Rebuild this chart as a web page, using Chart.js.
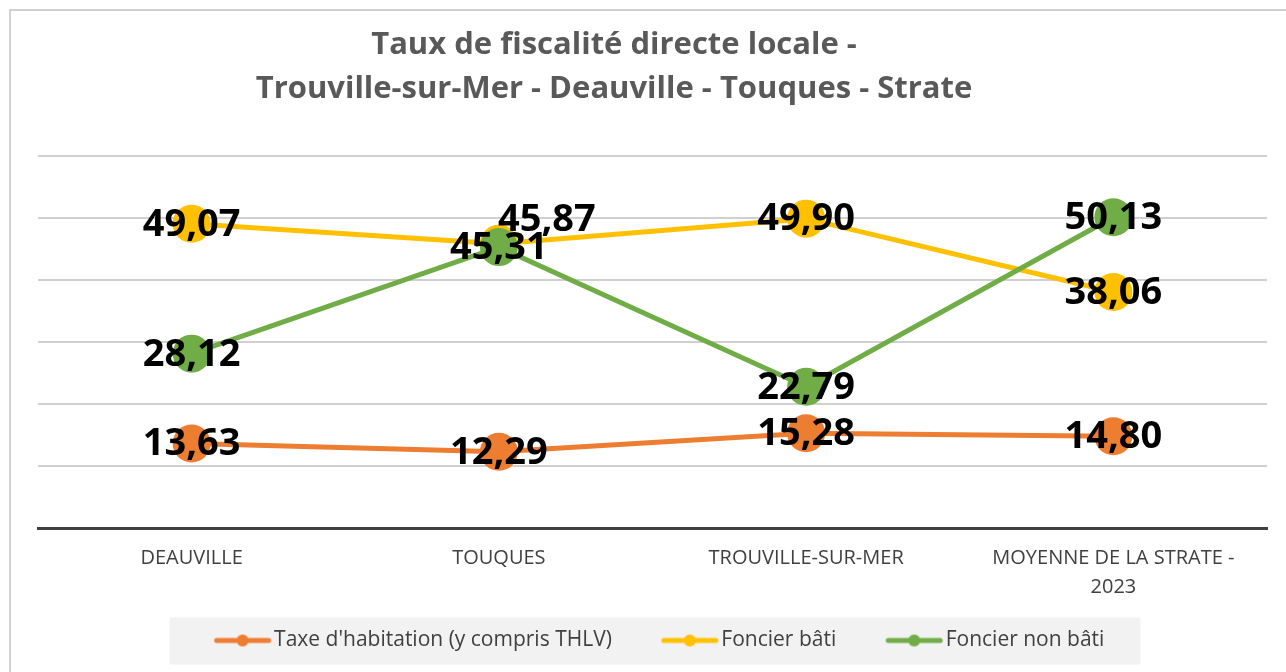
<!DOCTYPE html>
<html>
<head>
<meta charset="utf-8">
<script src="https://cdn.jsdelivr.net/npm/chart.js@4"></script>
<style>
  html, body { margin: 0; padding: 0; background: #fff; }
  #wrap { width: 1286px; height: 672px; position: relative; }
</style>
</head>
<body>
<div id="wrap"><canvas id="chartTaux"></canvas></div>
<script>
const communes = ["DEAUVILLE", "TOUQUES", "TROUVILLE-SUR-MER", ["MOYENNE DE LA STRATE -", "2023"]];
const taxeHabitation = [13.63, 12.29, 15.28, 14.80];
const foncierBati = [49.07, 45.87, 49.90, 38.06];
const foncierNonBati = [28.12, 45.31, 22.79, 50.13];
const yTicks = [0, 10, 20, 30, 40, 50, 60];

const FONT = "'Open Sans', sans-serif";

// line + dot picture for the legend, drawn on the right part of a wider canvas
function legendMark(color) {
  const c = document.createElement("canvas");
  c.width = 92;
  c.height = 14;
  const ctx = c.getContext("2d");
  ctx.strokeStyle = color;
  ctx.lineWidth = 5;
  ctx.lineCap = "round";
  ctx.beginPath();
  ctx.moveTo(36, 7);
  ctx.lineTo(88, 7);
  ctx.stroke();
  ctx.fillStyle = color;
  ctx.beginPath();
  ctx.arc(62, 7, 6, 0, Math.PI * 2);
  ctx.fill();
  return c;
}

// label shifts (only the crowded one on Touques is moved)
const labelShift = { "1-1": [48, -24] };

const valueLabels = {
  id: "valueLabels",
  afterDatasetsDraw(chart) {
    const ctx = chart.ctx;
    ctx.save();
    ctx.font = "bold 38px " + FONT;
    ctx.fillStyle = "#000";
    ctx.textAlign = "center";
    ctx.textBaseline = "middle";
    chart.data.datasets.forEach((ds, i) => {
      const meta = chart.getDatasetMeta(i);
      meta.data.forEach((pt, j) => {
        const s = labelShift[i + "-" + j] || [0, 0];
        const txt = ds.data[j].toFixed(2).replace(".", ",");
        ctx.fillText(txt, pt.x + s[0], pt.y + s[1] + 1);
      });
    });
    ctx.restore();
  },
};

const frame = {
  id: "frame",
  afterLayout(chart) {
    // title is centred a bit left of the plot in the original, legend slightly too
    chart.titleBlock.left = 0;
    chart.titleBlock.right = 1228;
    chart.legend.left -= 14;
  },
  beforeDraw(chart) {
    const ctx = chart.ctx;
    ctx.save();
    ctx.strokeStyle = "#d0d0d0";
    ctx.lineWidth = 2;
    ctx.beginPath();
    ctx.moveTo(10, chart.height);
    ctx.lineTo(10, 10);
    ctx.lineTo(chart.width, 10);
    ctx.stroke();
    const boxes = chart.legend.legendHitBoxes;
    if (boxes && boxes.length) {
      const left = boxes[0].left - 20;
      const last = boxes[boxes.length - 1];
      const right = last.left + last.width + 36;
      const mid = boxes[0].top + boxes[0].height / 2;
      ctx.fillStyle = "#f2f2f2";
      ctx.fillRect(left, mid - 23, right - left, 47);
    }
    ctx.restore();
  },
};

const data = {
  labels: communes,
  datasets: [
    {
      label: "Taxe d'habitation (y compris THLV)",
      data: taxeHabitation,
      borderColor: "#ED7D31",
      backgroundColor: "#ED7D31",
      order: 2,
    },
    {
      label: "Foncier bâti",
      data: foncierBati,
      borderColor: "#FFC000",
      backgroundColor: "#FFC000",
      order: 1,
    },
    {
      label: "Foncier non bâti",
      data: foncierNonBati,
      borderColor: "#70AD47",
      backgroundColor: "#70AD47",
      order: 0,
    },
  ],
};

const config = {
  type: "line",
  data,
  options: {
    responsive: false,
    animation: false,
    layout: { padding: { left: 38, right: 16, top: 0, bottom: 11 } },
    datasets: {
      line: { pointRadius: 19, pointHoverRadius: 19, pointBorderWidth: 0, borderWidth: 5, tension: 0 },
    },
    scales: {
      x: {
        offset: true,
        grid: { display: false },
        border: { display: true, color: "#404040", width: 3 },
        ticks: {
          color: "#404040",
          font: { family: FONT, size: 20, lineHeight: 1.45 },
          padding: 8,
          maxRotation: 0,
          autoSkip: false,
        },
        afterFit: (axis) => {
          axis.height = 77;
        },
      },
      y: {
        min: 0,
        max: 60,
        afterBuildTicks: (axis) => {
          axis.ticks = yTicks.map((v) => ({ value: v }));
        },
        ticks: { display: false },
        border: { display: false },
        grid: {
          drawTicks: false,
          lineWidth: 2,
          color: (c) => (c.tick.value === 0 ? "rgba(0,0,0,0)" : "#d0d0d0"),
        },
      },
    },
    plugins: {
      title: {
        display: true,
        text: ["Taux de fiscalité directe locale -", "Trouville-sur-Mer - Deauville - Touques - Strate"],
        color: "#595959",
        font: { family: FONT, size: 31, weight: "bold", lineHeight: 1.42 },
        padding: { top: 23, bottom: 45 },
      },
      legend: {
        position: "bottom",
        labels: {
          color: "#404040",
          font: { family: FONT, size: 21 },
          usePointStyle: true,
          pointStyleWidth: 74,
          padding: 25,
          sort: (a, b) => a.datasetIndex - b.datasetIndex,
          generateLabels: (chart) => {
            const items = Chart.defaults.plugins.legend.labels.generateLabels(chart);
            items.forEach((it) => {
              it.pointStyle = legendMark(chart.data.datasets[it.datasetIndex].borderColor);
            });
            return items;
          },
        },
      },
      tooltip: { enabled: false },
    },
  },
  plugins: [frame, valueLabels],
};

const canvas = document.getElementById("chartTaux");
canvas.width = 1286;
canvas.height = 672;
const chartTaux = new Chart(canvas, config);
</script>
</body>
</html>
